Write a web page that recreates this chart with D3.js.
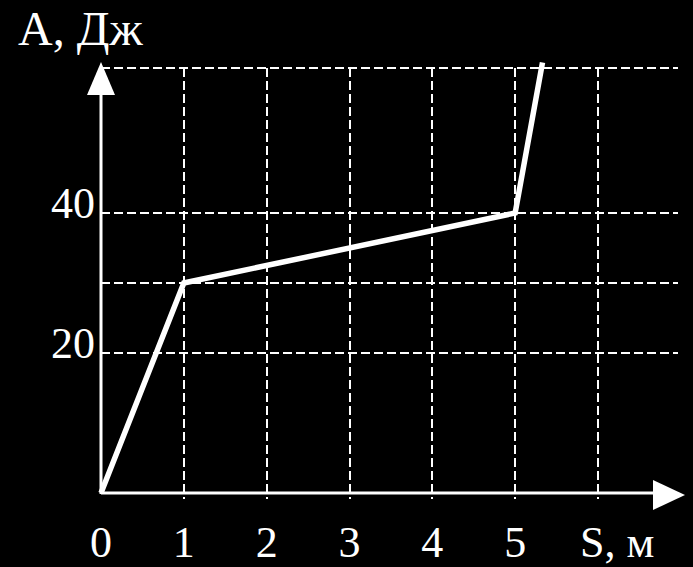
<!DOCTYPE html>
<html><head><meta charset="utf-8">
<script src="https://cdn.jsdelivr.net/npm/d3@7"></script>
<style>html,body{margin:0;padding:0;background:#000;}svg{display:block;}</style>
</head><body>
<script>
const sValues = [0, 1, 5, 5.33];
const aValues = [0, 30, 40, 61.5];
const xTickLabels = ["0", "1", "2", "3", "4", "5"];
const xTickValues = [0, 1, 2, 3, 4, 5];
const yTickLabels = ["20", "40"];
const yTickValues = [20, 40];
const xGrid = [1, 2, 3, 4, 5, 6];
const yGrid = [20, 30, 40, 60.7];
const xTitle = "S, м";
const yTitle = "А, Дж";

const W = 693, H = 567;
const svg = d3.select("body").append("svg").attr("width", W).attr("height", H)
  .style("background", "#000");
const x = d3.scaleLinear().domain([0, 6]).range([101, 598]);
const y = d3.scaleLinear().domain([0, 60]).range([493, 73]);
const font = "'Liberation Serif', 'DejaVu Serif', serif";

// grid
svg.append("g").selectAll("line").data(yGrid).join("line")
  .attr("x1", x(0)).attr("x2", x(6.97))
  .attr("y1", d => y(d)).attr("y2", d => y(d))
  .attr("stroke", "#fff").attr("stroke-width", 2).attr("stroke-dasharray", "9,4")
  .attr("shape-rendering", "crispEdges");
svg.append("g").selectAll("line").data(xGrid).join("line")
  .attr("x1", d => x(d)).attr("x2", d => x(d))
  .attr("y1", y(60.7)).attr("y2", y(0) + 6)
  .attr("stroke", "#fff").attr("stroke-width", 2).attr("stroke-dasharray", "9,4")
  .attr("shape-rendering", "crispEdges");

// axes
svg.append("line").attr("x1", x(0)).attr("x2", 660).attr("y1", y(0)).attr("y2", y(0))
  .attr("stroke", "#fff").attr("stroke-width", 3);
svg.append("line").attr("x1", x(0)).attr("x2", x(0)).attr("y1", y(0) + 1).attr("y2", 85)
  .attr("stroke", "#fff").attr("stroke-width", 3);
// arrows
svg.append("path").attr("d", `M${x(0)},62 L${x(0) - 14},95 L${x(0) + 14},95 Z`).attr("fill", "#fff");
svg.append("path").attr("d", `M685,${y(0) + 2} L653,${y(0) - 13} L653,${y(0) + 17} Z`).attr("fill", "#fff");

// data line
svg.append("path").datum(sValues.map((s, i) => [s, aValues[i]]))
  .attr("d", d3.line().x(d => x(d[0])).y(d => y(d[1])))
  .attr("fill", "none").attr("stroke", "#fff").attr("stroke-width", 5.5)
  .attr("stroke-linejoin", "miter");

// tick labels
svg.append("g").selectAll("text").data(xTickValues).join("text")
  .attr("x", d => x(d)).attr("y", 557).attr("text-anchor", "middle")
  .attr("fill", "#fff").attr("font-family", font).attr("font-size", 44)
  .text((d, i) => xTickLabels[i]);
svg.append("g").selectAll("text").data(yTickValues).join("text")
  .attr("x", 95).attr("y", d => y(d) + 5).attr("text-anchor", "end")
  .attr("fill", "#fff").attr("font-family", font).attr("font-size", 44)
  .text((d, i) => yTickLabels[i]);

// titles
svg.append("text").attr("x", 580).attr("y", 557).attr("fill", "#fff")
  .attr("font-family", font).attr("font-size", 44).text(xTitle);
svg.append("text").attr("x", 18).attr("y", 45).attr("fill", "#fff")
  .attr("font-family", font).attr("font-size", 48).text(yTitle);
</script>
</body></html>
